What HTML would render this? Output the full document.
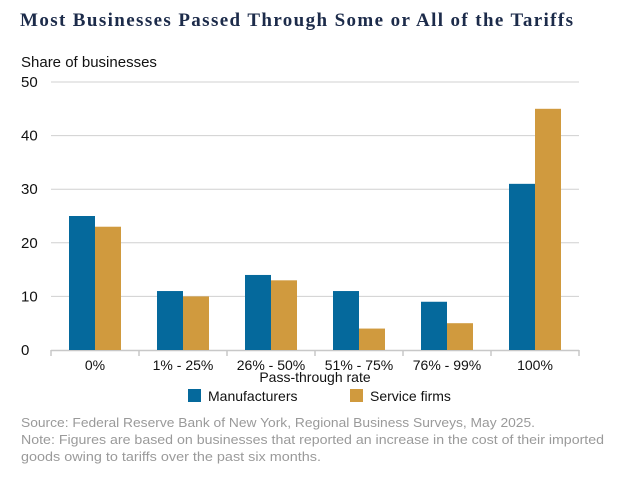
<!DOCTYPE html>
<html><head><style>
body{margin:0;background:#fff;width:621px;height:480px;overflow:hidden;font-family:"Liberation Sans",sans-serif}
</style></head><body>
<svg width="621" height="480">
<text x="20" y="26" font-family="Liberation Serif,serif" font-weight="bold" font-size="19" fill="#1c2b4a" textLength="553" lengthAdjust="spacing">Most Businesses Passed Through Some or All of the Tariffs</text>
<text x="21" y="67" font-size="15" fill="#111">Share of businesses</text>
<g id="grid"></g><g id="bars"></g><g id="xl"></g>
<text x="315" y="382" text-anchor="middle" font-size="14" fill="#111">Pass-through rate</text>
<g>
<rect x="188" y="389" width="13" height="13" fill="#05699c"/>
<text x="208" y="401" font-size="14" fill="#111">Manufacturers</text>
<rect x="350" y="389" width="13" height="13" fill="#d09a3e"/>
<text x="370" y="401" font-size="14" fill="#111">Service firms</text>
</g>
<text x="21" y="427" font-size="13" fill="#9a9a9a" textLength="514" lengthAdjust="spacingAndGlyphs">Source: Federal Reserve Bank of New York, Regional Business Surveys, May 2025.</text>
<text x="21" y="444" font-size="13" fill="#9a9a9a" textLength="583" lengthAdjust="spacingAndGlyphs">Note: Figures are based on businesses that reported an increase in the cost of their imported</text>
<text x="21" y="461" font-size="13" fill="#9a9a9a" textLength="300" lengthAdjust="spacingAndGlyphs">goods owing to tariffs over the past six months.</text>
</svg>
<script>
const categories=["0%","1% - 25%","26% - 50%","51% - 75%","76% - 99%","100%"];
const manufacturers=[25,11,14,11,9,31];
const serviceFirms=[23,10,13,4,5,45];
const yTicks=[0,10,20,30,40,50];
const NS="http://www.w3.org/2000/svg";
const x0=51,gw=88,y0=350,yTop=82,yMax=50;
const y=v=>y0-(v/yMax)*(y0-yTop);
function mk(t,a,p){const e=document.createElementNS(NS,t);for(const k in a)e.setAttribute(k,a[k]);p.appendChild(e);return e;}
const grid=document.getElementById('grid'),bars=document.getElementById('bars'),xl=document.getElementById('xl');
yTicks.forEach(t=>{
 if(t>0){const l=mk('line',{x1:x0,x2:x0+gw*6,y1:y(t),y2:y(t),stroke:'#d0d0d0','stroke-width':1},grid);
 
 }
 const tx=mk('text',{x:21,y:y(t)+5,'font-size':15,fill:'#111'},grid);tx.textContent=t;
 
 
});
const ax=mk('line',{x1:x0,x2:x0+gw*6,y1:y0+0.5,y2:y0+0.5,stroke:'#c8c8c8','stroke-width':1.5},grid);


for(let i=0;i<=6;i++){const tk=mk('line',{x1:x0+gw*i,x2:x0+gw*i,y1:y0,y2:y0+6,stroke:'#c8c8c8','stroke-width':1.5},grid);
 
 }
categories.forEach((c,i)=>{
 const gx=x0+gw*i;
 const b1=mk('rect',{x:gx+18,y:y(manufacturers[i]),width:26,height:y0-y(manufacturers[i]),fill:'#05699c'},bars);
 
 
 const b2=mk('rect',{x:gx+44,y:y(serviceFirms[i]),width:26,height:y0-y(serviceFirms[i]),fill:'#d09a3e'},bars);
 
 
 const t=mk('text',{x:gx+gw/2,y:370,'text-anchor':'middle','font-size':14,fill:'#111'},xl);t.textContent=c;
 
 
});
</script>
</body></html>
